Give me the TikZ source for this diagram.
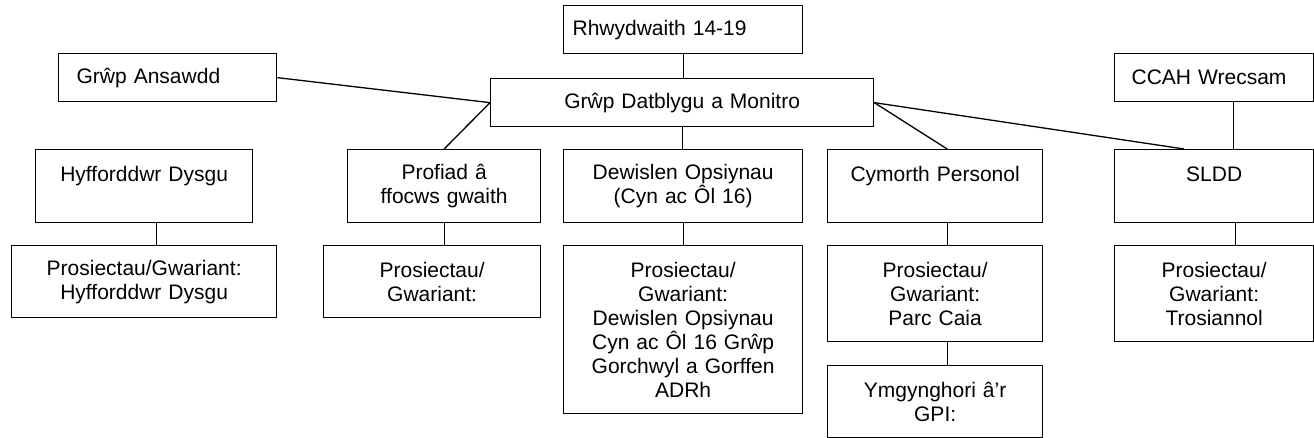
\documentclass[tikz,border=0pt]{standalone}
\usepackage{fontspec}
\setmainfont{Liberation Sans}
\begin{document}
\begin{tikzpicture}[x=1pt,y=1pt,
  box/.style={draw, line width=1.3pt, inner xsep=4pt, inner ysep=0pt, anchor=north west,
    align=center, font=\fontsize{21}{24}\selectfont},
  lbox/.style={box, align=left},
  conn/.style={line width=1.3pt}]
\useasboundingbox (0,0) rectangle (1314,-438);
% top
\node[lbox, minimum width=239pt, minimum height=48pt, text width=221pt] (rhw) at (563,-5) {Rhwydwaith 14-19};
\node[lbox, minimum width=218pt, minimum height=48pt, text width=182pt] (ans) at (58,-53) {Grŵp Ansawdd};
\node[box, minimum width=383pt, minimum height=48pt, text width=375pt] (dat) at (490,-78) {Grŵp Datblygu a Monitro};
\node[lbox, minimum width=199pt, minimum height=48pt, text width=165pt] (ccah) at (1114,-53) {CCAH Wrecsam};
% row 2
\node[box, minimum width=217pt, minimum height=73pt, text width=209pt] (hyf) at (35,-149) {Hyfforddwr Dysgu\\\mbox{}};
\node[box, minimum width=193pt, minimum height=73pt, text width=185pt] (pro) at (347,-149) {Profiad â\\ffocws gwaith};
\node[box, minimum width=239pt, minimum height=73pt, text width=231pt] (dew) at (563,-149) {Dewislen Opsiynau\\(Cyn ac Ôl 16)};
\node[box, minimum width=215pt, minimum height=73pt, text width=207pt] (cym) at (827,-149) {Cymorth Personol\\\mbox{}};
\node[box, minimum width=199pt, minimum height=73pt, text width=191pt] (sldd) at (1114,-149) {SLDD\\\mbox{}};
% row 3
\node[box, minimum width=265pt, minimum height=72pt, text width=257pt] (hyfP) at (11,-245) {Prosiectau/Gwariant:\\Hyfforddwr Dysgu};
\node[box, minimum width=217pt, minimum height=72pt, text width=209pt] (proP) at (323,-245) {Prosiectau/\\Gwariant:};
\node[box, minimum width=239pt, minimum height=168pt, text width=231pt] (dewP) at (563,-245) {Prosiectau/\\Gwariant:\\Dewislen Opsiynau\\Cyn ac Ôl 16 Grŵp\\Gorchwyl a Gorffen\\ADRh};
\node[box, minimum width=215pt, minimum height=96pt, text width=207pt] (cymP) at (827,-245) {Prosiectau/\\Gwariant:\\Parc Caia};
\node[box, minimum width=199pt, minimum height=96pt, text width=191pt] (slddP) at (1114,-245) {Prosiectau/\\Gwariant:\\Trosiannol};
\node[box, minimum width=215pt, minimum height=72pt, text width=207pt] (ymg) at (827,-365) {Ymgynghori â’r\\GPI:};
% connectors
\draw[conn] (rhw.south) -- (rhw.south |- dat.north);
\draw[conn] (ans.east) -- (dat.west);
\draw[conn] (dat.west) -- (pro.north);
\draw[conn] (dat.south) -- (dat.south |- dew.north);
\draw[conn] (dat.east) -- ([xshift=12pt]cym.north);
\draw[conn] (dat.east) -- ([xshift=-30pt]sldd.north);
\draw[conn] ([xshift=19pt]ccah.south) -- ([xshift=19pt]sldd.north);
\draw[conn] ([xshift=21pt]sldd.south) -- ([xshift=21pt]sldd.south |- slddP.north);
\draw[conn] ([xshift=12pt]hyf.south) -- ([xshift=12pt]hyf.south |- hyfP.north);
\draw[conn] (pro.south) -- (pro.south |- proP.north);
\draw[conn] (dew.south) -- (dew.south |- dewP.north);
\draw[conn] ([xshift=12pt]cym.south) -- ([xshift=12pt]cym.south |- cymP.north);
\draw[conn] ([xshift=12pt]cymP.south) -- ([xshift=12pt]cymP.south |- ymg.north);
\end{tikzpicture}
\end{document}
